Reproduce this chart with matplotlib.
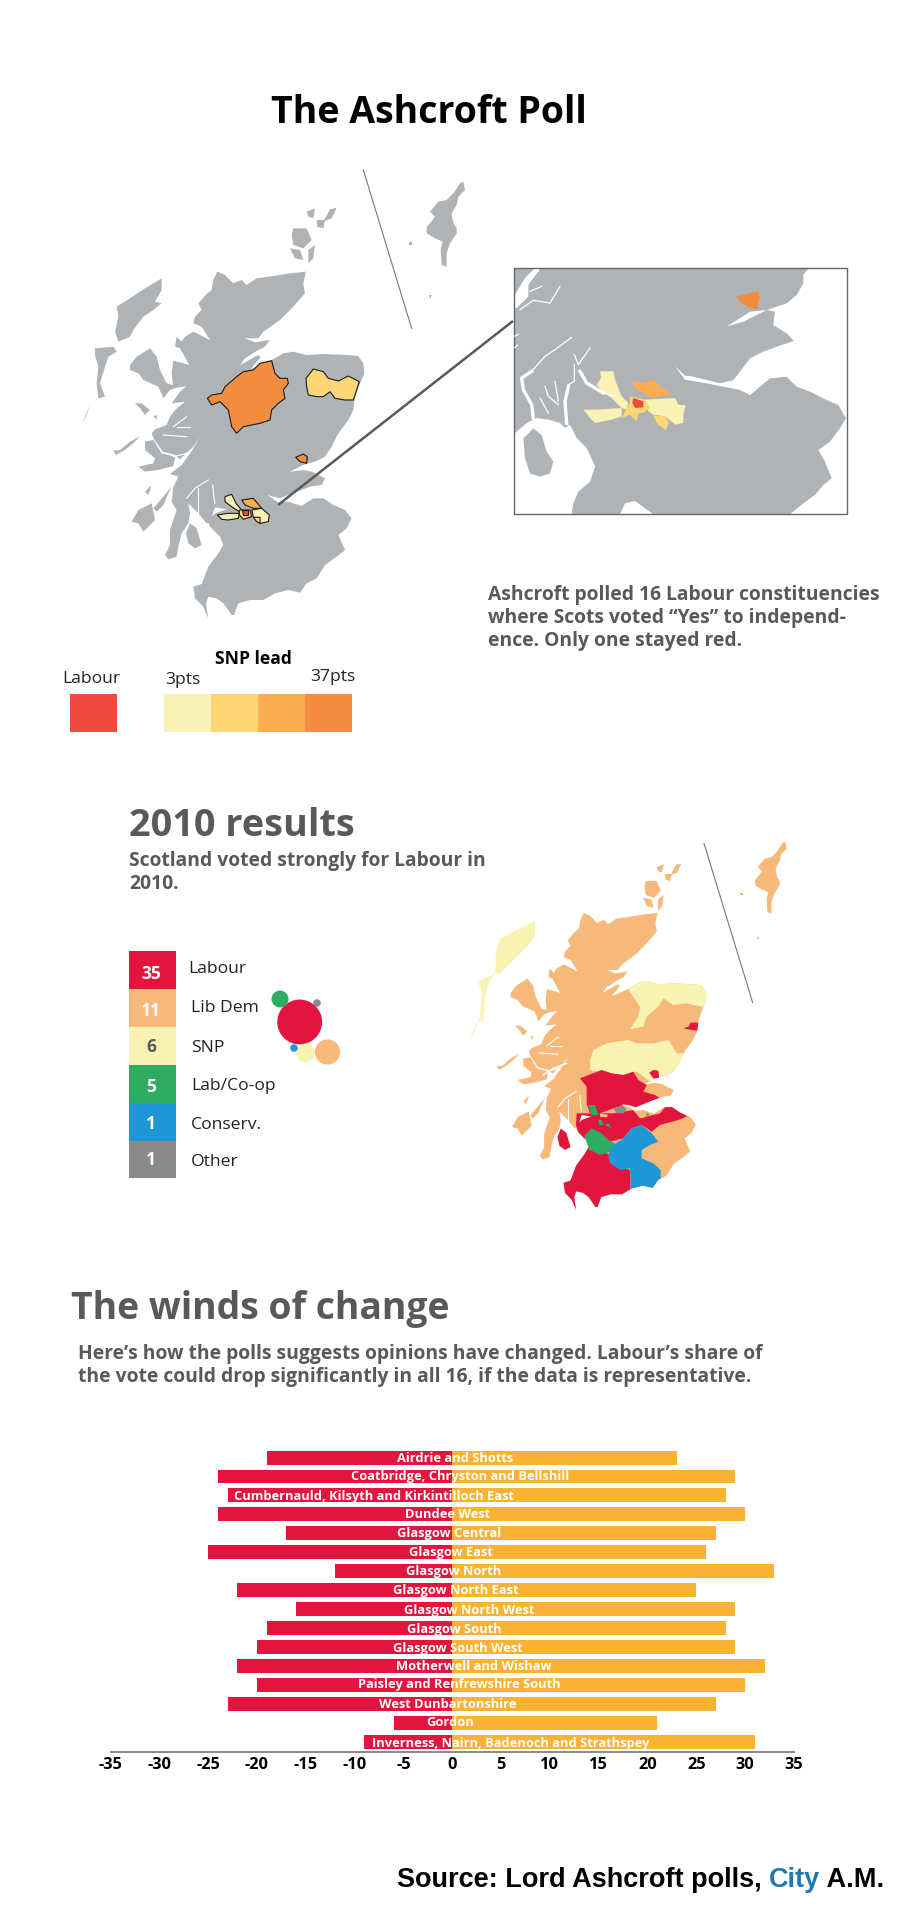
import numpy as np
import matplotlib
matplotlib.use('Agg')
import matplotlib.pyplot as plt
from matplotlib.patches import Polygon, Circle, Rectangle

plt.rcParams['font.family'] = ['Open Sans', 'Noto Sans', 'DejaVu Sans']

# bar chart data
seats = ['Airdrie and Shotts', 'Coatbridge, Chryston and Bellshill',
         'Cumbernauld, Kilsyth and Kirkintilloch East', 'Dundee West',
         'Glasgow Central', 'Glasgow East', 'Glasgow North', 'Glasgow North East',
         'Glasgow North West', 'Glasgow South', 'Glasgow South West',
         'Motherwell and Wishaw', 'Paisley and Renfrewshire South',
         'West Dunbartonshire', 'Gordon', 'Inverness, Nairn, Badenoch and Strathspey']
labour_change = [-19, -24, -23, -24, -17, -25, -12, -22, -16, -19, -20, -22, -20, -23, -6, -9]
snp_change = [23, 29, 28, 30, 27, 26, 33, 25, 29, 28, 29, 32, 30, 27, 21, 31]
label_centre = [0.3, 0.8, -8.0, -0.5, -0.3, -0.15, 0.15, 0.4, 1.7, 0.2, 0.6, 2.2, 0.75, -0.5, -0.25, 6.0]
label_nudge = [.03, .01, .03, .03, .03, -.01, .03, .03, .06, .08, .08, .01, -.03, .03, -.01, .06]
ticks = list(range(-35, 40, 5))

# 2010 result
parties = ['Labour', 'Lib Dem', 'SNP', 'Lab/Co-op', 'Conserv.', 'Other']
party_seats = [35, 11, 6, 5, 1, 1]
party_colours = ['#E2153F', '#F6B97A', '#F8F3B3', '#2FAB63', '#1F96D6', '#8A8A8A']
bubble_xy = [(299.7, 1022), (327.5, 1052), (305.5, 1053), (280, 999), (294, 1048), (317, 1003)]
number_y = [974, 1011, 1047, 1087, 1124, 1160]
label_y = [969, 1008, 1048, 1086, 1125, 1162]

scale_colours = ['#F8F2B5', '#FDD675', '#FAAE50', '#F28C40']
LAND = '#B0B3B6'
RED = '#EE4A3D'
TEXT = '#58595B'

# outlines, first map (3x crop coords)
mainland = [(562,305),(585,315),(610,340),(635,330),(650,345),(680,325),(730,318),(780,310),(828,305),(820,340),(825,370),
            (790,410),(750,450),(700,485),(685,505),(645,505),(675,517),(720,510),(705,530),(685,540),(645,565),(630,585),
            (685,555),(692,562),(662,597),(725,570),(760,550),(790,545),(830,555),(880,552),(950,555),(985,558),(1000,580),
            (1003,610),(990,640),(975,680),(970,720),(955,750),(925,790),(905,830),(885,860),(855,875),(820,885),(780,905),
            (820,900),(845,905),(885,925),(875,945),(840,950),(800,965),(750,985),(712,975),(745,998),(775,995),(815,1008),
            (850,985),(880,985),(910,1005),(945,1020),(965,1045),(950,1075),(925,1095),(945,1140),(920,1160),(885,1185),
            (860,1225),(830,1240),(810,1268),(775,1260),(735,1270),(700,1290),(660,1290),(625,1300),(612,1335),(605,1335),
            (580,1300),(560,1285),(535,1280),(528,1300),(535,1345),(520,1310),(495,1285),(490,1250),(515,1242),(535,1190),
            (565,1150),(580,1125),(570,1100),(540,1070),(532,1048),(560,1028),(590,1018),(555,1012),(540,1055),(530,1060),
            (505,1030),(475,1000),(480,1030),(475,1060),(455,1090),(445,1130),(440,1160),(415,1168),(405,1155),(420,1125),
            (420,1080),(440,1020),(425,995),(430,950),(445,920),(420,912),(455,885),(480,850),(512,800),(490,830),(450,868),
            (435,855),(398,845),(372,808),(365,790),(375,778),(410,765),(420,740),(435,720),(465,695),(425,700),(450,665),
            (468,650),(430,652),(425,610),(430,572),(478,585),(450,535),(435,530),(440,500),(455,515),(465,500),(490,485),
            (540,510),(515,470),(490,460),(495,440),(515,420),(505,400),(532,370),(545,360),(550,330)]
islands = [[(395,325),(395,360),(375,395),(395,400),(370,420),(340,440),(310,480),(300,500),(265,515),(255,485),(265,440),
            (260,410),(300,385),(345,355)],
           [(195,535),(250,530),(260,545),(235,560),(225,590),(210,640),(225,680),(205,685),(200,640),(205,590),(195,555)],
           [(205,685),(180,705),(170,735),(157,760),(165,740),(180,705)],
           [(790,175),(830,175),(845,210),(820,235),(790,225),(785,195)],
           [(780,235),(810,240),(820,270),(795,265)],
           [(835,240),(855,225),(850,265),(835,280)],
           [(830,125),(855,115),(850,145),(835,140)],
           [(860,150),(885,150),(880,175),(862,170)],
           [(900,118),(920,113),(905,145),(880,155)],
           [(1300,35),(1305,60),(1285,80),(1280,105),(1265,130),(1270,160),(1280,175),(1280,190),(1260,220),(1250,250),
            (1250,290),(1235,285),(1232,240),(1238,215),(1215,205),(1190,190),(1190,170),(1200,160),(1215,140),(1200,125),
            (1225,95),(1250,90),(1270,70),(1290,40)],
           [(1136,216),(1146,216),(1146,226),(1136,226)],
           [(1197,375),(1205,375),(1201,386)]]
skye = [(300,585),(320,560),(360,535),(380,560),(390,600),(410,640),(450,650),(420,660),(400,685),(385,650),(340,630),(325,610),(300,600)]
mull = [(345,815),(370,810),(395,850),(435,860),(430,888),(385,900),(345,905),(325,890),(370,880),(375,865),(345,840)]
west_isles = [skye, mull,
              [(315,700),(335,700),(360,720),(345,735),(330,715)],
              [(270,840),(300,815),(330,798),(315,815),(285,840),(258,855),(250,842)],
              [(370,738),(380,735),(380,750)],
              [(305,1055),(325,1020),(365,1000),(375,1050),(340,1085),(325,1060)],
              [(370,1015),(425,950),(400,1005),(380,1025)],
              [(345,965),(365,945),(355,975)]]
arran = [(480,1060),(500,1075),(515,1125),(495,1135),(475,1120),(468,1090)]
lochs1 = [[(400,795),(470,800)], [(535,930),(495,955),(470,985)], [(548,945),(552,985),(555,1000)], [(505,955),(505,1030)],
          [(430,860),(470,850)], [(410,985),(440,925)], [(440,770),(480,770)], [(470,740),(430,770)]]

inverness = [(532,685),(545,675),(575,670),(585,650),(620,620),(640,605),(670,600),(690,580),(725,572),(735,610),(750,625),
             (772,625),(775,640),(760,660),(765,685),(745,700),(725,720),(720,750),(690,760),(665,765),(640,770),(620,790),
             (605,770),(595,720),(570,695),(545,705)]
gordon = [(828,625),(850,597),(880,605),(895,625),(925,633),(955,618),(988,635),(970,690),(945,690),(915,685),(900,665),
          (880,680),(860,680),(835,675),(830,650)]
dundee = [(797,862),(820,852),(832,860),(830,880),(810,875)]
w_dun = [(585,980),(605,973),(618,1000),(635,1020),(628,1025),(605,1010),(585,995)]
paisley = [(562,1035),(595,1030),(628,1030),(625,1045),(595,1050),(575,1048)]
cumb = [(635,990),(670,985),(695,1015),(670,1015),(645,1005)]
airdrie = [(665,1020),(695,1015),(718,1035),(715,1055),(690,1060),(670,1040)]
mwell = [(670,1042),(690,1042),(690,1060),(680,1055)]
glasgow = [(628,1020),(660,1020),(665,1040),(640,1048),(628,1035)]
glas_red = [(635,1020),(653,1020),(653,1035),(640,1035)]

# inset map (3x crop coords)
inset_east = [(897,38),(880,60),(880,85),(860,120),(830,145),(800,155),(770,165),(720,170),(650,215),(700,200),(770,165),
              (795,170),(790,210),(830,235),(852,258),(815,270),(760,290),(720,310),(690,350),(670,375),(630,385),(590,375),
              (545,364),(525,362),(495,334),(525,374),(590,385),(640,395),(690,405),(720,420),(750,395),(780,370),(830,365),
              (860,395),(900,410),(950,435),(985,450),(1008,490),(990,520),(960,560),(925,585),(945,620),(965,670),(940,690),
              (915,720),(880,745),(840,778),(1012,778),(1012,38)]
inset_clyde = [(15,534),(50,504),(80,489),(115,494),(150,504),(165,519),(180,509),(200,549),(230,579),(255,634),(240,680),
               (205,710),(190,745),(185,778),(13,778)]
inset_arran = [(40,550),(70,520),(95,540),(110,590),(130,620),(120,655),(90,665),(60,655),(45,610)]
inset_cove = [(330,778),(345,745),(375,738),(405,760),(430,778)]
inset_nw = [(15,119),(45,69),(75,39),(90,44),(55,89),(55,124),(20,159),(15,159)]
inset_thin = [[(185,247),(135,284),(105,304),(65,349)], [(240,279),(205,329),(193,299)], [(135,379),(145,439)],
              [(105,394),(115,424),(145,449)], [(60,109),(95,94)], [(150,94),(120,144),(70,136),(30,164)],
              [(280,414),(315,424)], [(193,329),(193,379),(175,389)], [(90,429),(115,474)], [(15,243),(25,238)], [(15,278),(22,270)]]
inset_thick = [[(65,349),(35,369),(40,404),(65,449),(70,490)], [(210,349),(230,384),(280,414)], [(175,394),(165,439),(170,505)]]
inset_regions = [
    ('#F8F2B5', [(270,349),(310,349),(315,374),(335,424),(355,444),(350,464),(335,459),(305,429),(275,409),(260,389),(273,369)]),
    ('#F8F2B5', [(220,464),(260,464),(335,459),(335,484),(305,494),(255,504),(240,489)]),
    ('#FAAE50', [(365,379),(400,384),(430,374),(450,394),(485,417),(445,424),(425,429),(400,414),(375,399)]),
    ('#F8F2B5', [(405,434),(495,429),(505,449),(527,451),(520,479),(520,504),(495,509),(465,484),(430,479),(415,469)]),
    ('#FDD675', [(430,481),(465,484),(477,504),(467,526),(440,504)]),
    ('#FDD675', [(360,424),(405,434),(420,459),(400,474),(385,474),(380,499),(360,479),(335,489),(350,459),(360,444)]),
    (RED, [(370,429),(400,439),(400,457),(375,459),(367,444)]),
    ('#F28C40', [(680,125),(715,115),(745,110),(750,130),(740,155),(750,165),(720,160),(695,145)])]

# second map, 2010 (3x crop coords); these run past the coast and get clipped to it
snp_moray = [(625,478),(640,440),(880,440),(880,530),(845,530),(800,520),(760,525),(730,505),(715,530),(680,560),(670,590),
             (630,598),(655,560),(660,530)]
snp_perth = [(510,690),(520,660),(560,640),(625,630),(650,640),(700,640),(745,630),(770,670),(830,670),(830,745),(740,745),
             (690,755),(665,735),(650,725),(610,735),(540,725),(510,720)]
snp_lewis = [(345,272),(345,315),(330,340),(300,370),(240,430),(225,430),(228,360),(240,325),(300,295)]
snp_uist = [(175,455),(225,430),(210,450),(195,500),(190,575),(178,570),(155,620),(145,640),(165,590),(180,560),(185,490)]
lab_central = [(480,745),(545,720),(575,730),(610,735),(640,725),(655,750),(680,765),(670,785),(705,795),(730,810),(695,840),(650,840),
               (610,826),(580,835),(540,850),(510,850),(500,820),(500,770)]
lab_forth = [(470,850),(530,850),(580,850),(640,840),(660,865),(720,850),(745,820),(790,840),(800,860),(775,870),(720,885),(695,905),
             (665,885),(635,895),(610,925),(570,935),(540,920),(510,925),(480,925),(468,885)]
lab_south = [(480,945),(540,960),(570,975),(575,1000),(630,1020),(632,1100),(600,1150),(400,1150),(400,1060),(440,1010)]
lab_perth = [(688,728),(700,720),(715,722),(718,745),(700,745)]
lab_aberdeen = [(790,595),(805,590),(812,578),(850,578),(850,605),(805,598)]
coop = [[(505,825),(525,825),(535,855),(515,855)],
        [(515,895),(545,910),(565,930),(585,940),(575,965),(540,975),(490,950),(495,915)],
        [(535,870),(545,870),(550,885),(538,885)], [(565,880),(575,895),(555,885)], [(680,848),(690,855),(678,858)]]
conserv = [(635,895),(665,885),(695,910),(715,935),(690,945),(665,960),(665,985),(700,1000),(722,1020),(722,1050),(735,1100),
           (632,1100),(632,1055),(630,1015),(600,1020),(570,1000),(565,975),(580,945),(610,925)]
other = [(580,835),(610,825),(620,840),(610,850),(590,850)]
libdem_small = [[(540,850),(565,855),(560,862),(540,860)], [(655,850),(680,845),(670,865)]]
lochs2 = [[(610,825),(660,840)], [(440,700),(400,715),(370,735)]]


def crop1(pts):
    a = np.array(pts, dtype=float)
    return np.c_[30 + a[:, 0]/3, 170 + a[:, 1]/3]

def crop_inset(pts):
    a = np.array(pts, dtype=float)
    return np.c_[510 + a[:, 0]/3, 255 + a[:, 1]/3]

def crop2(pts):
    a = np.array(pts, dtype=float)
    return np.c_[420 + a[:, 0]/3, 830 + a[:, 1]/3]

def land_to_2(pts):
    a = np.array(pts, dtype=float)
    return crop2(np.c_[460 + (a[:, 0] - 525)*0.835, 510 + (a[:, 1] - 610)*0.857])

def isles_to_2(pts):
    a = np.array(pts, dtype=float)
    return crop2(np.c_[460 + (a[:, 0] - 525)*0.82, 35 + (a[:, 1] - 35)*0.8435])


fig = plt.figure(figsize=(9, 19.22), dpi=100)
ax = fig.add_axes([0, 0, 1, 1])
ax.set_xlim(0, 900)
ax.set_ylim(1922, 0)
ax.axis('off')

def fill(xy, colour, **kw):
    p = Polygon(xy, closed=True, facecolor=colour, edgecolor=kw.pop('edge', 'none'), **kw)
    ax.add_patch(p)
    return p

def px(x, y, s, size, **kw):
    kw.setdefault('ha', 'left')
    kw.setdefault('va', 'center')
    return ax.text(x, y, s, fontsize=size, **kw)

# ---- first map
px(429, 113, 'The Ashcroft Poll', 27, ha='center', fontweight='bold', color='black')
fill(crop1(mainland), LAND)
for shape in islands + west_isles + [arran]:
    fill(crop1(shape), LAND)
for line in lochs1:
    xy = crop1(line)
    ax.plot(xy[:, 0], xy[:, 1], color='white', lw=0.8)
for shape, col in [(inverness, '#F28C40'), (gordon, '#FDD675'), (dundee, '#F28C40'), (w_dun, '#F8F2B5'), (paisley, '#F8F2B5'),
                   (cumb, '#FAAE50'), (airdrie, '#F8F2B5'), (mwell, '#FDD675'), (glasgow, '#FDD675'), (glas_red, RED)]:
    fill(crop1(shape), col, edge='#1a1a1a', lw=0.8)

xy = crop1([(1000, 0), (1145, 475)])
ax.plot(xy[:, 0], xy[:, 1], color='#777777', lw=0.8)
ax.plot([513, 278], [321, 505], color='#58595B', lw=1.8, solid_capstyle='butt')

# inset
ax.add_patch(Rectangle((514, 268), 333, 246, facecolor=LAND, edgecolor='none'))
for shape in [inset_east, inset_clyde, inset_cove, inset_nw]:
    fill(crop_inset(shape), 'white')
fill(crop_inset(inset_arran), LAND)
for line in inset_thin:
    xy = crop_inset(line)
    ax.plot(xy[:, 0], xy[:, 1], color='white', lw=0.9)
for line in inset_thick:
    xy = crop_inset(line)
    ax.plot(xy[:, 0], xy[:, 1], color='white', lw=2.4)
for col, shape in inset_regions:
    fill(crop_inset(shape), col)
ax.add_patch(Rectangle((514, 268), 333, 246, facecolor='none', edgecolor='#666666', lw=1))

para = ['Ashcroft polled 16 Labour constituencies', 'where Scots voted “Yes” to independ-', 'ence. Only one stayed red.']
for i, s in enumerate(para):
    px(488.5, 595 + 23*i, s, 13.85, fontweight='bold', color=TEXT)

# scale legend
ax.add_patch(Rectangle((70, 694), 47, 38, facecolor=RED, edgecolor='none'))
px(91, 679, 'Labour', 12.6, ha='center', color='#222222')
for i, col in enumerate(scale_colours):
    ax.add_patch(Rectangle((164 + 47*i, 694), 47, 38, facecolor=col, edgecolor='none'))
px(253, 659, 'SNP lead', 12.6, ha='center', fontweight='bold', color='black')
px(183, 680, '3pts', 12.6, ha='center', color='#222222')
px(333, 677, '37pts', 12.6, ha='center', color='#222222')

# ---- 2010
px(129, 826.5, '2010 results', 27.2, fontweight='bold', color=TEXT)
px(129, 861, 'Scotland voted strongly for Labour in', 13.85, fontweight='bold', color=TEXT)
px(129, 884, '2010.', 13.85, fontweight='bold', color=TEXT)

row_top = 951
row_h = 37.9
for i, (name, n, col) in enumerate(zip(parties, party_seats, party_colours)):
    y = row_top + row_h*i
    ax.add_patch(Rectangle((128.5, y), 47.5, row_h, facecolor=col, edgecolor='none'))
    px(151, number_y[i], str(n), 12.5, ha='center', fontweight='bold',
       color=TEXT if name == 'SNP' else 'white')
    lx = 188 if name == 'Labour' else 191
    px(lx, label_y[i], name, 12.6, color='#222222')
    r = 3.79*np.sqrt(n)
    ax.add_patch(Circle(bubble_xy[i], r, facecolor=col, edgecolor='none'))

land2 = fill(land_to_2(mainland), '#F6B97A')
for shape in snp_moray, snp_perth:
    fill(crop2(shape), '#F8F3B3').set_clip_path(land2)
for shape in [lab_central, lab_forth, lab_south, lab_perth, lab_aberdeen]:
    fill(crop2(shape), '#E2153F').set_clip_path(land2)
for shape in coop:
    fill(crop2(shape), '#2FAB63').set_clip_path(land2)
fill(crop2(conserv), '#1F96D6').set_clip_path(land2)
fill(crop2(other), '#8A8A8A').set_clip_path(land2)
for shape in libdem_small:
    fill(crop2(shape), '#F6B97A').set_clip_path(land2)
for shape in west_isles:
    fill(land_to_2(shape), '#F6B97A')
fill(land_to_2(arran), '#E2153F')
for shape in snp_lewis, snp_uist:
    fill(crop2(shape), '#F8F3B3')
for shape in islands[3:]:
    fill(isles_to_2(shape), '#F6B97A')
for line in lochs1:
    xy = land_to_2(line)
    ax.plot(xy[:, 0], xy[:, 1], color='white', lw=0.8)
for line in lochs2:
    xy = crop2(line)
    ax.plot(xy[:, 0], xy[:, 1], color='white', lw=1.0)
xy = crop2([(852, 40), (998, 518)])
ax.plot(xy[:, 0], xy[:, 1], color='#777777', lw=0.8)

# ---- winds of change
px(71, 1308.5, 'The winds of change', 26.9, fontweight='bold', color=TEXT)
px(78, 1354, 'Here’s how the polls suggests opinions have changed. Labour’s share of', 13.9, fontweight='bold', color=TEXT)
px(78, 1377, 'the vote could drop significantly in all 16, if the data is representative.', 13.9, fontweight='bold', color=TEXT)

bx = fig.add_axes([110.5/900, 1 - 1752/1922, 683.5/900, 303/1922])
bx.patch.set_alpha(0)
rows = np.arange(len(seats))
bx.barh(rows, labour_change, height=0.735, color='#E2153F')
bx.barh(rows, snp_change, height=0.735, color='#F9B233')
bx.set_xlim(-35, 35)
bx.set_ylim(15.53, -0.45)
bx.set_xticks(ticks)
bx.set_xticklabels([str(t) for t in ticks], fontsize=11.8, fontweight='bold', color='black')
bx.set_yticks([])
bx.tick_params(axis='x', length=0, pad=3.5)
for side in ['top', 'left', 'right']:
    bx.spines[side].set_visible(False)
bx.spines['bottom'].set_color('#888888')
bx.spines['bottom'].set_linewidth(1.4)
for i, name in enumerate(seats):
    bx.text(label_centre[i], i + label_nudge[i], name, ha='center', va='center', color='white', fontsize=9.3, fontweight='bold')

# source line, three pieces next to each other
fig.canvas.draw()
rend = fig.canvas.get_renderer()
x0 = 397
for s, col in [('Source: Lord Ashcroft polls, ', 'black'), ('City', '#1F78B4'), (' A.M.', 'black')]:
    t = ax.text(x0, 1880, s, fontsize=19.5, fontweight='bold', color=col, va='center', ha='left',
                family=['Liberation Sans'])
    x0 = ax.transData.inverted().transform((t.get_window_extent(rend).x1, 0))[0]

fig.savefig('out.png', dpi=100)
